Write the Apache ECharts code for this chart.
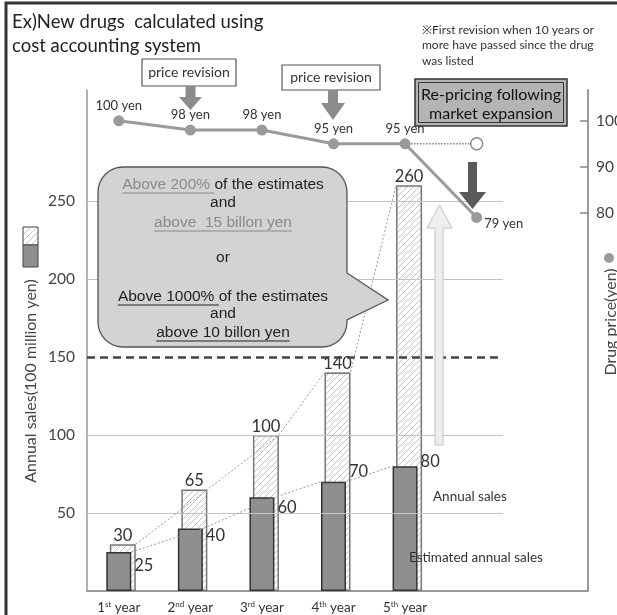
<!DOCTYPE html>
<html><head><meta charset="utf-8">
<script src="https://cdn.jsdelivr.net/npm/echarts@6/dist/echarts.min.js"></script>
<style>html,body{margin:0;padding:0;background:#fff}#c{width:617px;height:615px}</style>
</head><body><div id="c"></div>
<script>
// ---------------- data ----------------
const categories = ['1st year', '2nd year', '3rd year', '4th year', '5th year'];
const annualSales = [30, 65, 100, 140, 260];
const estimatedSales = [25, 40, 60, 70, 80];
const drugPrice = [100, 98, 98, 95, 95, 79];
const priceWithoutRepricing = 95;
const salesAxisLabels = [50, 100, 150, 200, 250];
const salesGridValues = [50, 100, 200, 250];
const salesThreshold = 150;
const priceAxisLabels = [80, 90, 100];

// ---------------- style helpers ----------------
const LATO = 'Lato';
const ARIAL = '"Liberation Sans", Arial, sans-serif';
const SALES_MAX = 321;
const PRICE_MIN = -2.2, PRICE_MAX = 106.7;
const SLOTS = 7;
const axisCats = categories.concat(['', ' ']);
const estLabelNudge = [14, 7, 10, -10, -4];
// trend-line anchors: [category index, side] (1 = right edge, -1 = left edge)
const trendAnchors = [[0, 1], [1, 1], [2, 1], [3, -1], [3, 1], [4, -1]];
const hatchEdge = { '1': 0.238, '-1': -0.126 };
const estEdge = { '1': 0.175, '-1': -0.175 };

function supLabel(v) {
  const m = /^(\d+)(st|nd|rd|th)(.*)$/.exec(v);
  if (!m) return v;
  return '{n|' + m[1] + '}{s|' + m[2] + '}{n|' + m[3] + '}';
}

// hatch pattern "/" lines
const hatch = document.createElement('canvas');
hatch.width = 6; hatch.height = 6;
(function () {
  const c = hatch.getContext('2d');
  c.fillStyle = '#fff'; c.fillRect(0, 0, 6, 6);
  c.strokeStyle = '#c4c4c4'; c.lineWidth = 1;
  c.beginPath();
  c.moveTo(0, 6); c.lineTo(6, 0);
  c.moveTo(-1, 1); c.lineTo(1, -1);
  c.moveTo(5, 7); c.lineTo(7, 5);
  c.stroke();
})();

const chart = echarts.init(document.getElementById('c'), null, { renderer: 'canvas' });

const ctx = document.createElement('canvas').getContext('2d');
function tw(str, size, fam) { ctx.font = size + 'px ' + fam; return ctx.measureText(str).width; }

// ---------------- graphics ----------------
const g = [];
const Z = 50;
function text(x, y, t, size, fill, opts) {
  g.push(Object.assign({ type: 'text', x: x, y: y, z: Z,
    style: Object.assign({ text: t, fontSize: size, fontFamily: LATO, fill: fill, align: 'left', verticalAlign: 'middle' }, (opts && opts.style) || {}) },
    (opts && opts.el) || {}));
}
function poly(points, fill, stroke, lw) {
  g.push({ type: 'polygon', z: Z, shape: { points: points }, style: { fill: fill, stroke: stroke || null, lineWidth: lw || 0 } });
}
function rect(x, y, w, h, fill, stroke, lw, z) {
  g.push({ type: 'rect', z: z || Z, shape: { x: x, y: y, width: w, height: h }, style: { fill: fill, stroke: stroke, lineWidth: lw } });
}
function line(x1, y1, x2, y2, stroke, lw) {
  g.push({ type: 'line', z: Z + 1, shape: { x1: x1, y1: y1, x2: x2, y2: y2 }, style: { stroke: stroke, lineWidth: lw } });
}
function arcPts(cx, cy, r, a0, a1) {
  const pts = [];
  for (let k = 0; k <= 8; k++) {
    const a = a0 + (a1 - a0) * k / 8;
    pts.push([cx + r * Math.cos(a), cy + r * Math.sin(a)]);
  }
  return pts;
}

// frame
rect(6, 3, 700, 700, 'none', '#333', 3, 100);
// title
text(12, 22, 'Ex)New drugs  calculated using', 18.5, '#222');
text(12, 46, 'cost accounting system', 18.5, '#222');
// note
text(422, 30, '\u203bFirst revision when 10 years or', 12, '#333');
text(422, 45, 'more have passed since the drug', 12, '#333');
text(422, 61, 'was listed', 12, '#333');
// price revision boxes + arrows
rect(142, 59, 94, 27, '#fff', '#555', 1.2);
text(189, 72.5, 'price revision', 14, '#333', { style: { align: 'center' } });
poly([[185.5, 86], [195.5, 86], [195.5, 97], [202, 97], [190.5, 110], [179, 97], [185.5, 97]], '#8c8c8c');
rect(282, 65, 98, 25, '#fff', '#555', 1.2);
text(331, 77.5, 'price revision', 14, '#333', { style: { align: 'center' } });
poly([[328, 90], [338, 90], [338, 103], [345, 103], [333, 120], [321, 103], [328, 103]], '#8c8c8c');
// re-pricing box
rect(415, 79, 152, 47, '#b4b4b4', '#333', 1.5);
rect(418.5, 82.5, 145, 40, 'none', '#333', 1);
text(491, 95, 'Re-pricing following', 16, '#111', { style: { align: 'center' } });
text(491, 114, 'market expansion', 16, '#111', { style: { align: 'center' } });
// dark down arrow
poly([[468, 162], [477, 162], [477, 192], [486, 192], [472.5, 209], [459, 192], [468, 192]], '#5a5a5a');
// light up arrow
poly([[435, 445], [443, 445], [443, 228], [452, 228], [439.5, 205], [427, 228], [435, 228]], '#eeeeee', '#c4c4c4', 1);
// series labels
text(433, 497, 'Annual sales', 13.5, '#333');
text(409, 558, 'Estimated annual sales', 13.5, '#333');
// legend icon
g.push({ type: 'rect', z: Z, shape: { x: 23, y: 227, width: 15, height: 18 }, style: { fill: { image: hatch, repeat: 'repeat' }, stroke: '#444', lineWidth: 1 } });
rect(23, 245, 15, 22, '#8f8f8f', '#444', 1);
// axis titles
text(31, 381, 'Annual sales(100 million yen)', 16, '#444', { style: { align: 'center' }, el: { rotation: Math.PI / 2 } });
text(611, 322, 'Drug price(yen)', 16, '#444', { style: { align: 'center' }, el: { rotation: Math.PI / 2 } });
g.push({ type: 'circle', z: Z, shape: { cx: 609, cy: 258, r: 5 }, style: { fill: '#9a9a9a' } });

// speech bubble (rounded rectangle with a pointer on the right)
(function () {
  const L = 98, T = 167, R = 347, B = 347, r = 25;
  let pts = [];
  pts = pts.concat(arcPts(L + r, T + r, r, Math.PI, 1.5 * Math.PI));
  pts = pts.concat(arcPts(R - r, T + r, r, 1.5 * Math.PI, 2 * Math.PI));
  pts.push([R, 273], [388, 300], [R, 320]);
  pts = pts.concat(arcPts(R - r, B - r, r, 0, 0.5 * Math.PI));
  pts = pts.concat(arcPts(L + r, B - r, r, 0.5 * Math.PI, Math.PI));
  poly(pts, '#d3d3d3', '#555', 1.3);
})();
const BX = 223, BFS = 15.5;
const bubbleLines = [
  { y: 185, parts: [['Above 200% ', 'g', true], ['of the estimates', 'd', false]] },
  { y: 203, parts: [['and', 'd', false]] },
  { y: 223, parts: [['above  15 billon yen', 'g', true]] },
  { y: 258, parts: [['or', 'd', false]] },
  { y: 297, parts: [['Above 1000% ', 'd', true], ['of the estimates', 'd', false]] },
  { y: 314, parts: [['and', 'd', false]] },
  { y: 333, parts: [['above 10 billon yen', 'd', true]] }
];
const bcol = { g: '#8a8a8a', d: '#222' };
bubbleLines.forEach(function (ln) {
  const full = ln.parts.map(p => p[0]).join('');
  const W = tw(full, BFS, ARIAL);
  let x = BX - W / 2;
  const rich = { g: { fontSize: BFS, fontFamily: ARIAL, fill: bcol.g }, d: { fontSize: BFS, fontFamily: ARIAL, fill: bcol.d } };
  g.push({ type: 'text', z: Z + 1, x: BX, y: ln.y, style: {
    text: ln.parts.map(p => '{' + p[1] + '|' + p[0] + '}').join(''),
    rich: rich, align: 'center', verticalAlign: 'middle' } });
  ln.parts.forEach(function (p) {
    const w = tw(p[0], BFS, ARIAL);
    if (p[2]) line(x, ln.y + 8, x + w, ln.y + 8, bcol[p[1]], 1);
    x += w;
  });
});

// ---------------- option ----------------
const GA = { left: 87, right: 29, top: 90, bottom: 24 };
const GB = { left: 83, right: 33, top: 90, bottom: 24 };
const GC = { left: 87, right: 114, top: 90, bottom: 24 };

const option = {
  backgroundColor: '#fff',
  animation: false,
  grid: [
    Object.assign({ outerBoundsMode: 'none', containLabel: false }, GA),
    Object.assign({ outerBoundsMode: 'none', containLabel: false }, GB),
    Object.assign({ outerBoundsMode: 'none', containLabel: false }, GC)
  ],
  xAxis: [
    { gridIndex: 0, type: 'category', data: axisCats,
      axisLine: { onZero: false, lineStyle: { color: '#999', width: 2 } },
      axisTick: { show: false }, splitLine: { show: false }, axisLabel: { show: false } },
    { gridIndex: 1, type: 'category', data: axisCats,
      axisLine: { show: false }, axisTick: { show: false }, splitLine: { show: false },
      axisLabel: { interval: 0, margin: 9, formatter: supLabel,
        rich: { n: { fontSize: 13.5, fontFamily: LATO, color: '#333', lineHeight: 15 },
                s: { fontSize: 8, fontFamily: LATO, color: '#333', lineHeight: 9, verticalAlign: 'top' } } } },
    { gridIndex: 1, type: 'value', min: -0.5, max: SLOTS - 0.5, show: false },
    { gridIndex: 2, type: 'value', min: 0, max: 1, show: false }
  ],
  yAxis: [
    { gridIndex: 0, type: 'value', min: 0, max: SALES_MAX, interval: 50,
      axisLine: { show: true, onZero: false, lineStyle: { color: '#999', width: 1.5 } },
      axisTick: { show: false }, splitLine: { show: false },
      axisLabel: { margin: 12, fontSize: 15.5, fontFamily: LATO, color: '#444',
        formatter: v => salesAxisLabels.indexOf(v) >= 0 ? String(v) : '' } },
    { gridIndex: 0, type: 'value', position: 'right', min: PRICE_MIN, max: PRICE_MAX,
      axisLine: { show: true, onZero: false, lineStyle: { color: '#999', width: 2 } },
      axisTick: { show: true, inside: true, length: 8, customValues: priceAxisLabels, lineStyle: { color: '#888', width: 1.5 } },
      splitLine: { show: false },
      axisLabel: { customValues: priceAxisLabels, margin: 8, fontSize: 15.5, fontFamily: LATO, color: '#444' } },
    { gridIndex: 1, type: 'value', min: 0, max: SALES_MAX, show: false },
    { gridIndex: 1, type: 'value', min: PRICE_MIN, max: PRICE_MAX, show: false },
    { gridIndex: 2, type: 'value', min: 0, max: SALES_MAX, show: false }
  ],
  series: [
    { name: 'grid', type: 'line', xAxisIndex: 3, yAxisIndex: 4, data: [], z: 1, silent: true,
      markLine: { symbol: 'none', silent: true, label: { show: false },
        lineStyle: { color: '#c4c4c4', width: 1, type: 'solid' },
        data: salesGridValues.map(v => ({ yAxis: v })).concat([
          { yAxis: salesThreshold, lineStyle: { color: '#444', width: 2.5, type: [8, 5] } }]) } },
    { name: 'Annual sales', type: 'bar', xAxisIndex: 0, yAxisIndex: 0, barWidth: 26, z: 3,
      data: annualSales,
      itemStyle: { color: { image: hatch, repeat: 'repeat' }, borderColor: '#777', borderWidth: 1.5 },
      label: { show: true, position: 'top', distance: 0, fontSize: 16.5, fontFamily: LATO, color: '#333' } },
    { name: 'Estimated annual sales', type: 'bar', xAxisIndex: 1, yAxisIndex: 2, barWidth: 25, z: 4,
      data: estimatedSales.map((v, i) => ({ value: v, label: { offset: [3, estLabelNudge[i]] } })),
      itemStyle: { color: '#8f8f8f', borderColor: '#333', borderWidth: 1.5 },
      label: { show: true, position: ['100%', 0], align: 'left', verticalAlign: 'middle', fontSize: 16.5, fontFamily: LATO, color: '#333' } },
    { name: 'annual trend', type: 'line', xAxisIndex: 2, yAxisIndex: 2, z: 5, symbol: 'none', silent: true,
      data: trendAnchors.map(a => [a[0] + hatchEdge[a[1]], annualSales[a[0]]]),
      lineStyle: { color: '#999', width: 1, type: [2, 2] } },
    { name: 'estimate trend', type: 'line', xAxisIndex: 2, yAxisIndex: 2, z: 5, symbol: 'none', silent: true,
      data: trendAnchors.map(a => [a[0] + estEdge[a[1]], estimatedSales[a[0]]]),
      lineStyle: { color: '#999', width: 1, type: [2, 2] } },
    { name: 'no repricing', type: 'line', xAxisIndex: 1, yAxisIndex: 3, z: 6,
      data: drugPrice.map((v, i) => {
        if (i === drugPrice.length - 2) return { value: v, symbol: 'none' };
        if (i === drugPrice.length - 1) return { value: priceWithoutRepricing, symbol: 'circle', symbolSize: 12 };
        return '-';
      }),
      lineStyle: { color: '#888', width: 1.5, type: 'dotted' },
      itemStyle: { color: '#fff', borderColor: '#888', borderWidth: 1.5 } },
    { name: 'Drug price', type: 'line', xAxisIndex: 1, yAxisIndex: 3, z: 7,
      symbol: 'circle', symbolSize: 11,
      data: drugPrice.map((v, i) => i === drugPrice.length - 1
        ? { value: v, label: { position: 'right', offset: [0, 6], distance: 2 } } : v),
      lineStyle: { color: '#9a9a9a', width: 3 },
      itemStyle: { color: '#9a9a9a' },
      label: { show: true, position: 'top', distance: 3, formatter: '{c} yen', fontSize: 13, fontFamily: LATO, color: '#333' } }
  ],
  graphic: { elements: g }
};
chart.setOption(option);
</script></body></html>
